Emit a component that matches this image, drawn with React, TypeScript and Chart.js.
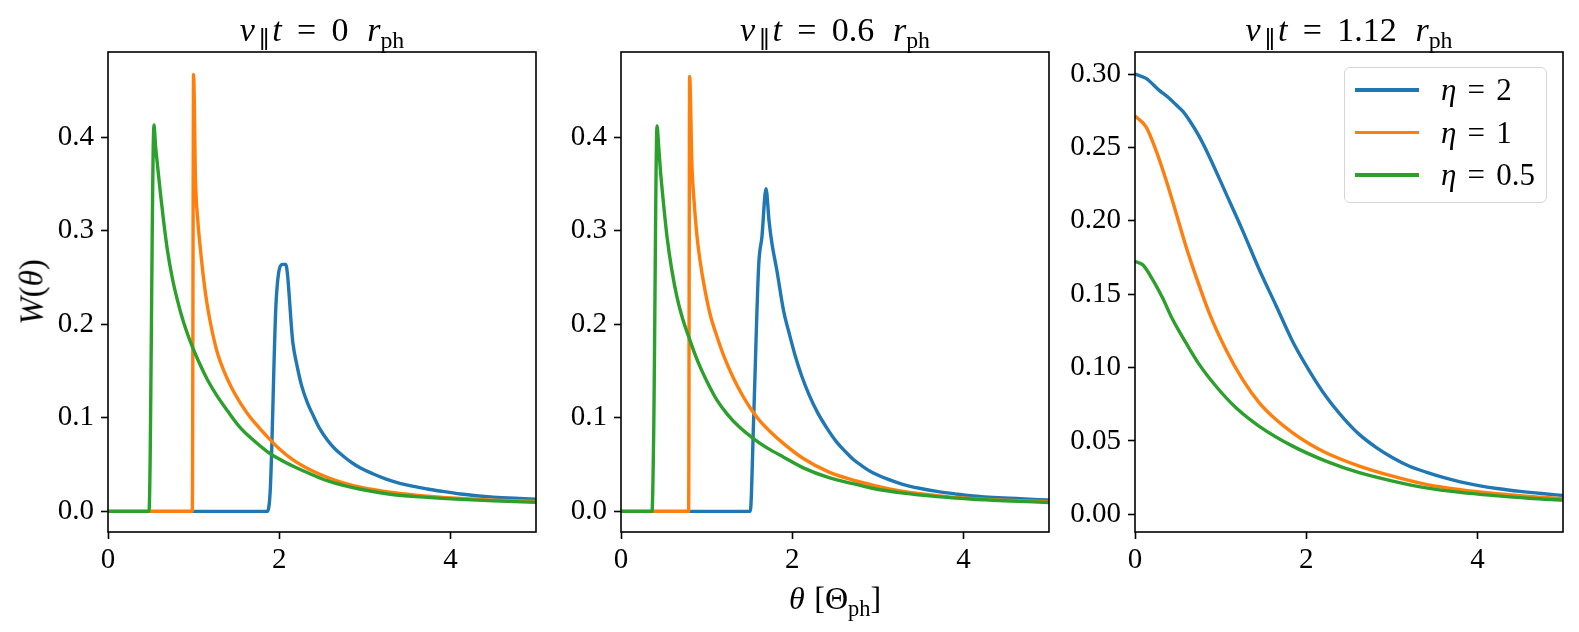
import React, { useEffect, useRef } from "react"
import { Chart, registerables } from "chart.js"

Chart.register(...registerables)

const FONT = "'Liberation Serif', 'DejaVu Serif', serif"
const COLORS = ["#1f77b4", "#ff7f0e", "#2ca02c"]
const etaValues = ["2", "1", "0.5"]

const xTicks = [0, 2, 4]
const xTickLabels = ["0", "2", "4"]
const yTicksLow = [0, 0.1, 0.2, 0.3, 0.4]
const yTickLabelsLow = ["0.0", "0.1", "0.2", "0.3", "0.4"]
const yTicksHigh = [0, 0.05, 0.1, 0.15, 0.2, 0.25, 0.3]
const yTickLabelsHigh = ["0.00", "0.05", "0.10", "0.15", "0.20", "0.25", "0.30"]

// v t = 0
const theta1Blue = [0, 1.855, 1.895, 1.965, 2.04, 2.075, 2.16, 2.21, 2.26, 2.33, 2.4, 2.47, 2.56, 2.65, 2.75, 2.85, 2.95, 3.1, 3.25, 3.34, 3.5, 3.73, 3.9, 4.12, 4.3, 4.5, 4.75, 5.0]
const w1Blue = [0, 0, 0.022, 0.226, 0.264, 0.264, 0.18, 0.155, 0.135, 0.116, 0.102, 0.089, 0.0766, 0.067, 0.059, 0.052, 0.0463, 0.04, 0.0345, 0.0318, 0.028, 0.024, 0.0215, 0.0186, 0.0168, 0.0153, 0.014, 0.013]
const theta1Orange = [0, 0.985, 1.0, 1.022, 1.05, 1.08, 1.115, 1.155, 1.2, 1.27, 1.35, 1.45, 1.545, 1.65, 1.78, 1.86, 2.0, 2.17, 2.36, 2.56, 2.75, 2.95, 3.34, 3.73, 4.12, 4.5, 5.0]
const w1Orange = [0, 0, 0.467, 0.355, 0.31, 0.28, 0.25, 0.223, 0.2, 0.172, 0.151, 0.131, 0.116, 0.102, 0.088, 0.08, 0.067, 0.0545, 0.0445, 0.0365, 0.0305, 0.0258, 0.0199, 0.0163, 0.0138, 0.0121, 0.0107]
const theta1Green = [0, 0.479, 0.537, 0.556, 0.576, 0.61, 0.65, 0.693, 0.75, 0.81, 0.88, 0.985, 1.07, 1.16, 1.27, 1.4, 1.55, 1.7, 1.86, 2.0, 2.17, 2.36, 2.56, 2.75, 2.95, 3.34, 3.73, 4.12, 4.5, 5.0]
const w1Green = [0, 0, 0.413, 0.39, 0.372, 0.342, 0.31, 0.28, 0.25, 0.226, 0.203, 0.176, 0.158, 0.141, 0.124, 0.107, 0.089, 0.076, 0.064, 0.056, 0.048, 0.0402, 0.0328, 0.0278, 0.0237, 0.0178, 0.015, 0.0129, 0.0113, 0.0097]

// v t = 0.6
const theta2Blue = [0, 1.51, 1.55, 1.608, 1.647, 1.694, 1.73, 1.764, 1.82, 1.9, 1.96, 2.03, 2.11, 2.2, 2.3, 2.43, 2.52, 2.62, 2.715, 2.81, 2.91, 3.1, 3.3, 3.5, 3.69, 3.9, 4.08, 4.47, 5.0]
const w2Blue = [0, 0, 0.1, 0.262, 0.294, 0.345, 0.31, 0.286, 0.258, 0.214, 0.192, 0.168, 0.145, 0.124, 0.105, 0.0855, 0.074, 0.064, 0.0555, 0.049, 0.043, 0.035, 0.0287, 0.0245, 0.0214, 0.0188, 0.0168, 0.0143, 0.0122]
const theta2Orange = [0, 0.79, 0.802, 0.829, 0.855, 0.888, 0.925, 0.966, 1.04, 1.121, 1.21, 1.316, 1.41, 1.51, 1.62, 1.741, 1.9, 2.13, 2.43, 2.75, 2.95, 3.3, 3.69, 4.08, 4.47, 5.0]
const w2Orange = [0, 0, 0.465, 0.369, 0.33, 0.294, 0.267, 0.244, 0.211, 0.187, 0.164, 0.142, 0.1255, 0.1105, 0.097, 0.0855, 0.0725, 0.0565, 0.042, 0.0325, 0.0279, 0.0213, 0.0168, 0.0139, 0.0121, 0.0104]
const theta2Green = [0, 0.362, 0.381, 0.421, 0.44, 0.46, 0.5, 0.537, 0.59, 0.654, 0.72, 0.79, 0.86, 0.927, 1.02, 1.121, 1.25, 1.38, 1.51, 1.62, 1.741, 1.9, 2.13, 2.43, 2.75, 2.95, 3.3, 3.69, 4.08, 4.47, 5.0]
const w2Green = [0, 0, 0.077, 0.412, 0.39, 0.365, 0.326, 0.294, 0.26, 0.229, 0.206, 0.187, 0.169, 0.154, 0.136, 0.119, 0.103, 0.0905, 0.0805, 0.073, 0.066, 0.058, 0.0465, 0.036, 0.0288, 0.0245, 0.0195, 0.0158, 0.0132, 0.0114, 0.0096]

// v t = 1.12
const theta3Blue = [0, 0.13, 0.28, 0.4, 0.48, 0.56, 0.635, 0.75, 0.87, 1.06, 1.26, 1.45, 1.65, 1.84, 2.04, 2.23, 2.43, 2.62, 2.82, 3.01, 3.2, 3.4, 3.6, 3.8, 4.0, 4.25, 4.5, 4.75, 5.0]
const w3Blue = [0.3, 0.297, 0.289, 0.2835, 0.279, 0.2745, 0.2685, 0.2575, 0.2435, 0.219, 0.193, 0.167, 0.142, 0.118, 0.0975, 0.0805, 0.066, 0.0545, 0.0455, 0.0386, 0.033, 0.0288, 0.0252, 0.0222, 0.0198, 0.0175, 0.0157, 0.0142, 0.0129]
const theta3Orange = [0, 0.129, 0.245, 0.362, 0.479, 0.596, 0.713, 0.869, 1.063, 1.258, 1.452, 1.647, 1.842, 2.04, 2.23, 2.62, 3.01, 3.4, 3.8, 4.2, 4.6, 5.0]
const w3Orange = [0.2714, 0.264, 0.248, 0.228, 0.2055, 0.1825, 0.162, 0.137, 0.1122, 0.0918, 0.076, 0.0646, 0.0556, 0.048, 0.042, 0.0329, 0.026, 0.0204, 0.0168, 0.0142, 0.0122, 0.0108]
const theta3Green = [0, 0.09, 0.206, 0.323, 0.44, 0.596, 0.752, 0.946, 1.18, 1.452, 1.842, 2.23, 2.62, 3.01, 3.4, 3.8, 4.2, 4.6, 5.0]
const w3Green = [0.1723, 0.17, 0.16, 0.1474, 0.1327, 0.1168, 0.102, 0.0873, 0.0726, 0.06, 0.0465, 0.0363, 0.0284, 0.0227, 0.0181, 0.015, 0.0128, 0.011, 0.0097]

type Panel = {
  time: string
  series: [number[], number[]][]
  yMin: number
  yMax: number
  yTicks: number[]
  yLabels: string[]
  left: number
}

const panels: Panel[] = [
  {
    time: "0",
    series: [[theta1Blue, w1Blue], [theta1Orange, w1Orange], [theta1Green, w1Green]],
    yMin: -0.022, yMax: 0.491, yTicks: yTicksLow, yLabels: yTickLabelsLow, left: 108,
  },
  {
    time: "0.6",
    series: [[theta2Blue, w2Blue], [theta2Orange, w2Orange], [theta2Green, w2Green]],
    yMin: -0.022, yMax: 0.491, yTicks: yTicksLow, yLabels: yTickLabelsLow, left: 621,
  },
  {
    time: "1.12",
    series: [[theta3Blue, w3Blue], [theta3Orange, w3Orange], [theta3Green, w3Green]],
    yMin: -0.012, yMax: 0.315, yTicks: yTicksHigh, yLabels: yTickLabelsHigh, left: 1135,
  },
]

const PLOT_TOP = 52
const PLOT_W = 428
const PLOT_H = 480
const Y_AXIS_W = 80
const X_AXIS_H = 60
const PAD = 6
const TICK_FONT = { family: FONT, size: 29 }

const framePlugin = {
  id: "frame",
  afterDraw(chart: Chart) {
    const { ctx, chartArea: a } = chart
    ctx.save()
    ctx.strokeStyle = "#000"
    ctx.lineWidth = 1.6
    ctx.strokeRect(a.left, a.top, a.right - a.left, a.bottom - a.top)
    ctx.restore()
  },
}

const tickGrid = {
  drawOnChartArea: false,
  drawTicks: true,
  tickLength: 7,
  tickWidth: 1.6,
  tickColor: "#000",
  color: "#000",
}

const PanelChart: React.FC<{ panel: Panel }> = ({ panel }) => {
  const chartRef = useRef<HTMLCanvasElement | null>(null)

  useEffect(() => {
    if (!chartRef.current) return
    const chart = new Chart(chartRef.current, {
      type: "line",
      data: {
        datasets: panel.series.map(([xs, ys], i) => ({
          label: `η = ${etaValues[i]}`,
          data: xs.map((x, j) => ({ x, y: ys[j] })),
          borderColor: COLORS[i],
          backgroundColor: COLORS[i],
          borderWidth: 3.4,
          pointRadius: 0,
          fill: false,
          cubicInterpolationMode: "monotone" as const,
          borderJoinStyle: "round" as const,
          order: 3 - i,
        })),
      },
      options: {
        responsive: false,
        animation: false,
        events: [],
        layout: { padding: { top: PAD, right: PAD, left: 0, bottom: 0 } },
        plugins: {
          legend: { display: false },
          tooltip: { enabled: false },
        },
        scales: {
          x: {
            type: "linear",
            min: 0,
            max: 5,
            afterFit: (s: any) => {
              s.height = X_AXIS_H
              s.paddingLeft = 0
              s.paddingRight = 0
            },
            afterBuildTicks: (s: any) => {
              s.ticks = xTicks.map((v) => ({ value: v }))
            },
            ticks: {
              font: TICK_FONT,
              color: "#000",
              padding: 4,
              maxRotation: 0,
              autoSkip: false,
              callback: (_v: any, i: number) => xTickLabels[i],
            },
            grid: tickGrid,
            border: { display: false },
          },
          y: {
            type: "linear",
            min: panel.yMin,
            max: panel.yMax,
            afterFit: (s: any) => {
              s.width = Y_AXIS_W
              s.paddingTop = 0
              s.paddingBottom = 0
            },
            afterBuildTicks: (s: any) => {
              s.ticks = panel.yTicks.map((v) => ({ value: v }))
            },
            ticks: {
              font: TICK_FONT,
              color: "#000",
              padding: 7,
              autoSkip: false,
              callback: (_v: any, i: number) => panel.yLabels[i],
            },
            grid: tickGrid,
            border: { display: false },
          },
        },
      },
      plugins: [framePlugin],
    })
    return () => {
      chart.destroy()
    }
  }, [panel])

  const sub: React.CSSProperties = { fontSize: "0.7em", position: "relative", top: "0.3em" }

  return (
    <>
      <canvas
        ref={chartRef}
        width={Y_AXIS_W + PLOT_W + PAD}
        height={PAD + PLOT_H + X_AXIS_H}
        style={{ position: "absolute", left: panel.left - Y_AXIS_W, top: PLOT_TOP - PAD }}
      />
      <div
        style={{
          position: "absolute",
          left: panel.left,
          width: PLOT_W,
          top: 13,
          textAlign: "center",
          fontSize: 34,
          lineHeight: "34px",
          whiteSpace: "nowrap",
        }}
      >
        <i style={{ marginRight: "0.05em" }}>v</i>
        <span style={{ ...sub, margin: "0 0.1em" }}>∥</span>
        <i>t</i>
        <span style={{ margin: "0 0.45em" }}>=</span>
        {panel.time}
        <i style={{ marginLeft: "0.55em" }}>r</i>
        <span style={sub}>ph</span>
      </div>
    </>
  )
}

const App: React.FC = () => {
  return (
    <div
      style={{
        position: "fixed",
        left: 0,
        top: 0,
        width: 1579,
        height: 632,
        background: "#fff",
        fontFamily: FONT,
        color: "#000",
        overflow: "hidden",
      }}
    >
      {panels.map((p) => (
        <PanelChart key={p.time} panel={p} />
      ))}
      <div
        style={{
          position: "absolute",
          left: 32,
          top: PLOT_TOP + PLOT_H / 2,
          transform: "translate(-50%, -50%) rotate(-90deg)",
          fontSize: 33,
          lineHeight: "33px",
          whiteSpace: "nowrap",
        }}
      >
        <i>W</i>(<i>θ</i>)
      </div>
      <div
        style={{
          position: "absolute",
          left: 621,
          width: PLOT_W,
          top: 582,
          textAlign: "center",
          fontSize: 32,
          lineHeight: "32px",
          whiteSpace: "nowrap",
        }}
      >
        <i>θ</i>
        <span style={{ marginLeft: "0.3em" }}>[Θ</span>
        <span style={{ fontSize: "0.7em", position: "relative", top: "0.3em" }}>ph</span>]
      </div>
      <div
        style={{
          position: "absolute",
          left: 1344,
          top: 67,
          width: 203,
          height: 136,
          boxSizing: "border-box",
          border: "1.6px solid #d6d6d6",
          borderRadius: 6,
          background: "rgba(255,255,255,0.8)",
        }}
      >
        {etaValues.map((v, i) => (
          <div
            key={v}
            style={{
              position: "absolute",
              left: 10,
              top: 7 + i * 42.5,
              height: 30,
              display: "flex",
              alignItems: "center",
              fontSize: 31,
              whiteSpace: "nowrap",
            }}
          >
            <span style={{ display: "inline-block", width: 64, height: 3.4, background: COLORS[i] }} />
            <span style={{ marginLeft: 22 }}>
              <i>η</i>
              <span style={{ margin: "0 0.36em" }}>=</span>
              {v}
            </span>
          </div>
        ))}
      </div>
    </div>
  )
}

export default App
